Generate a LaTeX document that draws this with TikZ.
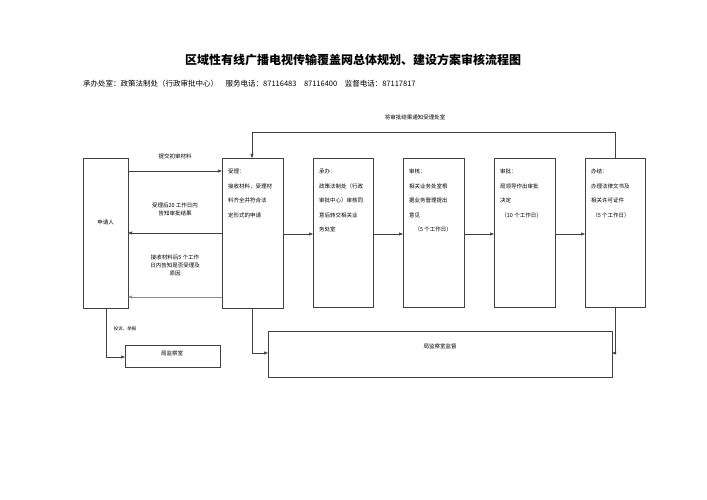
\documentclass[tikz,border=0pt]{standalone}
\usepackage{fontspec}
\setmainfont{Noto Sans CJK SC}
\usetikzlibrary{arrows.meta}
\begin{document}
\begin{tikzpicture}[x=1pt,y=-1pt,
  box/.style={draw=black!75,line width=0.6pt},
  arr/.style={draw=black!75,line width=0.6pt,-{Triangle[length=4pt,width=3pt]}},
  lbl/.style={font=\fontsize{5.5}{8}\selectfont,align=center,inner sep=0},
  txt/.style={font=\fontsize{5.5}{14.5}\selectfont,align=left,anchor=north west,inner sep=0}]
\useasboundingbox (0,0) rectangle (707,500);
\node[font=\fontsize{12}{14}\selectfont\bfseries] (title) at (353,60) {区域性有线广播电视传输覆盖网总体规划、建设方案审核流程图};
\node[anchor=west,font=\fontsize{7.5}{9}\selectfont,inner sep=0] (sub) at (83,84) {承办处室：政策法制处（行政审批中心）\quad 服务电话：87116483\quad 87116400\quad 监督电话：87117817};
% boxes
\draw[box] (83,158) rectangle (128,308);
\node[lbl] (sq) at (105.5,222) {申请人};
\coordinate (sqT) at (128,171);
\draw[box] (222,158) rectangle (283,308);
\node[txt] (sl) at (228,169) {受理：\\接收材料，受理材\\料齐全并符合法\\定形式的申请};
\draw[box] (313,158) rectangle (373,307);
\node[txt] (cb) at (319,169) {承办：\\政策法制处（行政\\审批中心）审核同\\意后转交相关业\\务处室};
\draw[box] (403,158) rectangle (464,307);
\node[txt] (sh) at (409,169) {审核：\\相关业务处室根\\据业务管理提出\\意见\\\quad（5 个工作日）};
\draw[box] (494,158) rectangle (555,307);
\node[txt] (sp) at (500,169) {审批：\\局领导作出审批\\决定\\\ （10 个工作日）};
\draw[box] (585,158) rectangle (645,307);
\node[txt] (bj) at (591,169) {办结：\\办理法律文书及\\相关许可证件\\\ （5 个工作日）};
\draw[box] (125,345) rectangle (220,367);
\node[lbl] (jc) at (172,353) {局监察室};
\draw[box] (268,331) rectangle (612,377);
\node[lbl] (jd) at (440,346) {局监察室监督};
% chain arrows
\draw[arr] (283,234) -- (313,234);
\draw[arr] (373,234) -- (403,234);
\draw[arr] (464,234) -- (494,234);
\draw[arr] (555,234) -- (585,234);
% left arrows
\draw[arr] (128,171) -- (222,171);
\node[lbl] (l1) at (175,156) {提交初审材料};
\draw[arr] (222,233) -- (128,233);
\node[lbl] (l2) at (175,209) {受理后20 工作日内\\告知审批结果};
\draw[arr,draw=black!45] (222,297) -- (128,297);
\node[lbl] (l3) at (175,265) {接收材料后5 个工作\\日内告知是否受理及\\原因};
% top feedback
\draw[arr] (615,158) -- (615,132) -- (252,132) -- (252,158);
\node[lbl] (l4) at (415,117) {将审批结果通知受理处室};
% bottom
\draw[arr] (106,308) -- (106,357) -- (125,357);
\node[lbl,font=\fontsize{4.5}{6}\selectfont] (l5) at (125,329) {投诉、举报};
\draw[arr] (252,308) -- (252,353) -- (268,353);
\draw[arr] (615,307) -- (615,353) -- (612,353);
\end{tikzpicture}
\end{document}
